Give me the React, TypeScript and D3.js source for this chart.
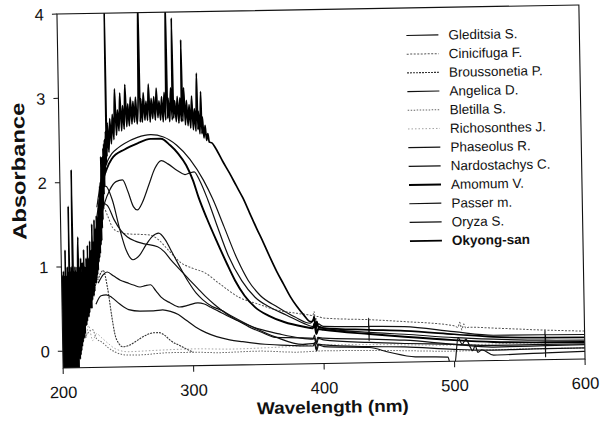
import React from 'react';
import * as d3 from 'd3';

// Axis ticks
const wavelengthTicks = [200, 300, 400, 500, 600];
const absorbanceTicks = [0, 1, 2, 3, 4];

// Legend order
const seriesNames = [
  'Gleditsia S.', 'Cinicifuga F.', 'Broussonetia P.', 'Angelica D.', 'Bletilla S.',
  'Richosonthes J.', 'Phaseolus R.', 'Nardostachys C.', 'Amomum V.', 'Passer m.',
  'Oryza S.', 'Okyong-san',
];

type Pt = [number, number];

// Spectra: [wavelength (nm), absorbance]
const gleditsia: Pt[] = [
  [228, 1.7], [232, 2.05], [236, 2.22], [240, 2.33], [245, 2.4], [250, 2.45], [260, 2.52], [270, 2.55],
  [280, 2.52], [290, 2.42], [300, 2.25], [310, 2.0], [317, 1.77], [325, 1.45], [335, 1.05], [343, 0.8],
  [352, 0.62], [365, 0.48], [378, 0.36], [390, 0.28], [393, 0.33], [394.5, 0.22], [396, 0.27], [400, 0.24],
  [434.6, 0.23], [434.7, 0.33], [434.8, 0.06], [435, 0.23], [462, 0.22], [500, 0.15], [530, 0.1],
  [569.6, 0.095], [569.7, 0.15], [569.8, -0.17], [570, 0.095], [600, 0.09],
];
const cinicifuga: Pt[] = [
  [230, 1.5], [233, 1.7], [236, 1.6], [240, 1.45], [245, 1.4], [250, 1.38], [260, 1.37], [268, 1.36],
  [275, 1.3], [282, 1.18], [292, 1.02], [300, 0.96], [310, 0.9], [320, 0.78], [336, 0.6], [350, 0.52],
  [363, 0.45], [380, 0.4], [389, 0.38], [392, 0.37], [393, 0.42], [394, 0.31], [395, 0.36], [400, 0.34],
  [435, 0.31], [462, 0.28], [500, 0.22], [503, 0.2], [504.5, 0.26], [506, 0.17], [507.5, 0.24],
  [509, 0.19], [511, 0.2], [530, 0.185], [570, 0.15], [600, 0.13],
];
const broussonetia: Pt[] = [
  [224, 0.7], [228, 0.85], [232, 0.95], [235, 0.75], [238, 0.4], [240, 0.2], [243, 0.08], [246, 0.04],
  [250, 0.05], [255, 0.09], [260, 0.14], [265, 0.18], [270, 0.2], [274, 0.2], [278, 0.17], [283, 0.1],
  [290, 0.04], [296, -0.01], [300, -0.04],
];
const angelica: Pt[] = [
  [230, 1.5], [234, 1.75], [238, 1.9], [243, 2.0], [248, 2.02], [252, 1.88], [256, 1.7], [259, 1.66],
  [263, 1.75], [268, 1.95], [273, 2.15], [278, 2.24], [283, 2.2], [290, 2.12], [296, 2.07], [300, 2.09],
  [303, 2.1], [307, 2.0], [313, 1.77], [320, 1.45], [328, 1.1], [338, 0.8], [348, 0.6], [359, 0.48],
  [372, 0.38], [385, 0.28], [392, 0.24], [393.5, 0.3], [395, 0.17], [396.5, 0.24], [400, 0.22],
  [435, 0.16], [462, 0.13], [500, 0.08], [530, 0.054], [570, 0.03], [600, 0.023],
];
const bletilla: Pt[] = [
  [214, 0.05], [217, 0.15], [220, 0.22], [223, 0.25], [226, 0.14], [230, 0.1], [235, 0.03], [240, -0.02],
  [250, -0.06], [260, -0.06], [270, -0.05], [280, -0.04], [300, -0.04], [320, -0.05], [350, -0.04],
  [380, -0.06], [400, -0.05], [450, -0.06], [500, -0.08], [550, -0.07], [600, -0.07],
];
const richosonthes: Pt[] = [
  [212, 0.3], [214, 0.1], [216, 0.35], [218, 0.15], [220, 0.3], [223, 0.12], [226, 0.2], [230, 0.15],
  [235, 0.08], [240, 0.02], [250, -0.02], [270, -0.01], [300, 0.0], [330, -0.01], [360, 0.0], [400, 0.02],
  [450, 0.01], [500, -0.01], [550, 0.0], [600, 0.0],
];
const phaseolus: Pt[] = [
  [228, 1.6], [232, 1.9], [235, 1.95], [240, 1.78], [245, 1.45], [250, 1.18], [255, 1.07], [260, 1.12],
  [265, 1.24], [270, 1.34], [275, 1.38], [280, 1.3], [285, 1.15], [290, 1.0], [297, 0.8], [303, 0.66],
  [308, 0.58], [315, 0.5], [321, 0.46], [330, 0.38], [343, 0.27], [363, 0.125], [384, 0.03], [393, 0.04],
  [394, -0.03], [395.5, 0.03], [400, 0.02], [435, -0.01], [462, -0.02], [500, -0.06], [530, -0.076],
  [570, -0.07], [600, -0.07],
];
const nardostachys: Pt[] = [
  [228, 1.5], [232, 1.75], [236, 1.72], [241, 1.55], [246, 1.42], [251, 1.34], [257, 1.29], [263, 1.26],
  [274, 1.22], [279, 1.16], [284, 1.06], [291, 0.94], [298, 0.82], [304, 0.72], [310, 0.62], [317, 0.52],
  [325, 0.42], [334, 0.33], [343, 0.25], [353, 0.18], [363, 0.12], [380, 0.11], [393, 0.1], [394, 0.04],
  [395.5, 0.11], [400, 0.1], [435, 0.08], [462, 0.06], [500, 0.0], [530, -0.04], [570, -0.035], [600, -0.03],
];
const amomum: Pt[] = [
  [226, 1.3], [229, 1.6], [232, 1.95], [236, 2.15], [240, 2.27], [250, 2.38], [260, 2.45], [270, 2.5],
  [278, 2.5], [285, 2.42], [291, 2.32], [297, 2.18], [302, 2.0], [306, 1.8], [312, 1.55], [320, 1.25],
  [327, 1.0], [333, 0.8], [340, 0.62], [348, 0.48], [358, 0.38], [370, 0.3], [385, 0.24], [392, 0.22],
  [393, 0.27], [394.5, 0.15], [396, 0.21], [400, 0.2], [435, 0.14], [462, 0.1], [500, 0.05], [530, 0.02],
  [570, 0.005], [600, 0.0],
];
const passer: Pt[] = [
  [228, 0.8], [232, 0.9], [235, 0.93], [240, 0.88], [245, 0.83], [250, 0.8], [255, 0.77], [260, 0.745],
  [264, 0.76], [268, 0.77], [272, 0.7], [276, 0.62], [283, 0.55], [290, 0.5], [297, 0.52], [304, 0.545],
  [309, 0.53], [314, 0.49], [320, 0.44], [326, 0.39], [338, 0.3], [351, 0.22], [366, 0.16], [381, 0.11],
  [392, 0.09], [393, 0.14], [394.5, 0.03], [396, 0.1], [400, 0.08], [435, 0.04], [462, 0.02], [500, 0.0],
  [530, -0.02], [570, -0.02], [600, -0.02],
];
const oryza: Pt[] = [
  [226, 0.55], [230, 0.65], [234, 0.66], [238, 0.63], [244, 0.55], [251, 0.48], [260, 0.46], [270, 0.46],
  [277, 0.47], [283, 0.45], [289, 0.41], [295, 0.34], [302, 0.26], [310, 0.19], [318, 0.14], [328, 0.1],
  [338, 0.075], [355, 0.04], [375, 0.02], [392, 0.01], [393, 0.05], [394.5, -0.05], [396, 0.02], [400, 0.0],
  [435, -0.02], [450, -0.08], [470, -0.14], [495, -0.15], [497, -0.25], [500, -0.25], [503, 0.08],
  [506, 0.0], [509, 0.06], [512, -0.03], [514, -0.08], [516, -0.02], [518, -0.1], [521, -0.07],
  [530, -0.135], [570, -0.12], [600, -0.11],
];
const okyongSan: Pt[] = [
  [200, 0.6], [200.25, -0.3], [200.5, 0.9], [200.75, -0.3], [201, 0.85], [201.25, -0.3], [201.5, 0.95],
  [201.75, -0.3], [202, 0.7], [202.25, -0.25], [202.5, 0.9], [202.75, -0.3], [203, 1.2], [203.25, -0.3],
  [203.5, 0.85], [203.75, -0.3], [204, 0.9], [204.25, -0.2], [204.5, 1.0], [204.75, -0.3], [205, 0.8],
  [205.25, -0.3], [205.5, 0.95], [205.75, -0.3], [206, 1.72], [206.25, -0.3], [206.5, 0.9], [206.75, -0.3],
  [207, 0.95], [207.25, -0.2], [207.5, 1.0], [207.75, -0.3], [208, 0.75], [208.25, -0.3], [208.5, 0.9],
  [208.8, 2.15], [209.05, -0.3], [209.3, 0.95], [209.6, -0.3], [209.85, 0.9], [210.1, -0.25], [210.4, 1.0],
  [210.7, -0.3], [211, 0.95], [211.25, -0.3], [211.5, 0.85], [211.75, -0.25], [212, 1.0], [212.25, -0.2],
  [212.5, 1.0], [213, 1.35], [213.3, -0.1], [213.6, 0.9], [213.9, -0.05], [214.2, 1.0], [214.5, 0.0],
  [214.8, 1.1], [215.1, 0.05], [215.4, 0.9], [215.7, 0.1], [216, 1.05], [216.3, 0.15], [216.6, 1.0],
  [216.9, 0.15], [217.2, 1.2], [217.5, 0.2], [217.8, 1.0], [218.1, 0.3], [218.4, 0.95], [218.7, 0.3],
  [219, 1.1], [219.3, 0.35], [219.6, 1.05], [219.9, 0.4], [220.2, 1.25], [220.5, 0.4], [220.8, 1.1],
  [221.1, 0.45], [221.4, 1.0], [221.7, 0.5], [222, 1.3], [222.3, 0.55], [222.6, 1.15], [222.9, 0.5],
  [223.2, 1.2], [223.5, 0.6], [223.8, 1.5], [224.1, 0.65], [224.4, 1.25], [224.7, 0.65], [225, 1.3],
  [225.3, 0.7], [225.6, 1.55], [225.9, 0.8], [226.2, 1.35], [226.5, 0.8], [226.8, 1.45], [227.1, 0.85],
  [227.4, 1.6], [227.7, 0.9], [228, 1.5], [228.3, 0.95], [228.6, 1.55], [228.9, 1.05], [229.2, 1.7],
  [229.5, 1.1], [229.8, 1.8], [230.1, 1.15], [230.4, 1.95], [230.7, 1.25], [231, 2.0], [231.3, 1.3],
  [231.6, 2.3], [231.9, 1.45], [232.2, 2.2], [232.5, 1.55], [232.8, 2.3], [233.1, 1.7], [233.4, 2.4],
  [233.7, 1.85], [234, 2.45], [234.3, 1.95], [234.6, 2.5], [235, 2.1], [235.5, 2.6], [236, 2.2],
  [236.2, 4.2], [236.4, 2.3], [237, 2.7], [238, 2.35], [239, 2.75],
  [240, 2.45], [241, 2.8], [242, 2.5], [243, 3.1], [244, 2.55], [245, 2.85], [246, 2.6], [247, 3.05],
  [248, 2.6], [249, 2.9], [250, 2.62], [251, 3.15], [252, 2.65], [253, 2.92], [254, 2.66], [255, 3.0],
  [256, 2.68], [257, 2.95], [258, 2.7], [259, 3.0], [260, 2.68], [261, 2.95], [262, 4.2], [262.4, 2.7],
  [263, 2.98], [264, 2.7], [265, 3.05], [266, 2.72], [267, 2.95], [268, 2.72], [269, 3.15], [270, 2.7],
  [271, 2.98], [272, 2.74], [273, 3.0], [274, 2.72], [275, 3.1], [276, 2.75], [277, 2.95], [278, 2.72],
  [279, 3.0], [280, 2.7], [281, 3.05], [282, 2.72], [283, 4.2], [283.4, 2.74], [284, 2.98], [285, 2.7],
  [286, 3.1], [287, 2.72], [287.5, 3.93], [288, 2.74], [289, 2.95], [290, 2.7], [291, 3.0], [292, 2.68],
  [293, 2.98], [294, 2.7], [294.4, 3.67], [295, 2.7], [296, 3.1], [297, 2.66], [298, 2.95], [299, 2.65],
  [300, 2.9], [301, 2.62], [302, 3.0], [303, 2.6], [304, 2.85], [305, 2.58], [306, 3.27], [306.5, 2.6],
  [307, 2.82], [308, 2.55], [309, 3.05], [309.5, 2.55], [310, 2.75], [311, 2.5], [312, 2.65], [313, 2.47],
  [314, 2.55], [315, 2.45], [317, 2.44], [320, 2.37], [325, 2.22], [330, 2.08], [335, 1.93], [340, 1.78],
  [345, 1.6], [350, 1.42], [355, 1.25], [360, 1.07], [365, 0.9], [370, 0.75], [375, 0.6], [380, 0.48],
  [385, 0.38], [390, 0.3], [392, 0.3], [393, 0.36], [394, 0.22], [395, 0.3], [396, 0.24], [400, 0.22],
  [435, 0.19], [462, 0.17], [500, 0.12], [530, 0.08], [570, 0.06], [600, 0.055],
];

const seriesData: Pt[][] = [
  gleditsia, cinicifuga, broussonetia, angelica, bletilla, richosonthes,
  phaseolus, nardostachys, amomum, passer, oryza, okyongSan,
];

// Stroke styling per series (same order as the legend)
const seriesStyles = [
  { color: '#111', width: 1.2, dash: '' },
  { color: '#555', width: 1.0, dash: '2,1.5' },
  { color: '#333', width: 1.1, dash: '2,1' },
  { color: '#111', width: 1.2, dash: '' },
  { color: '#666', width: 1.0, dash: '1.5,1.5' },
  { color: '#999', width: 0.9, dash: '1.5,2' },
  { color: '#111', width: 1.2, dash: '' },
  { color: '#111', width: 1.2, dash: '' },
  { color: '#000', width: 1.9, dash: '' },
  { color: '#111', width: 1.2, dash: '' },
  { color: '#111', width: 1.2, dash: '' },
  { color: '#000', width: 1.7, dash: '' },
];

const W = 602;
const H = 430;
const plot = { left: 60, right: 582, top: 9.5, bottom: 363.5 };
const FONT = '"Liberation Sans", Arial, Helvetica, sans-serif';

export default function App() {
  const x = d3.scaleLinear().domain([200, 600]).range([plot.left, plot.right]);
  const y = d3.scaleLinear().domain([-0.2, 4]).range([plot.bottom, plot.top]);
  const line = d3
    .line<Pt>()
    .x((d) => x(d[0]))
    .y((d) => y(d[1]))
    .curve(d3.curveMonotoneX);

  const legendX = 409;
  const legendY0 = 37;
  const legendStep = 18.7;

  return (
    <svg
      width={W}
      height={H}
      viewBox={`0 0 ${W} ${H}`}
      style={{ position: 'absolute', left: 0, top: 0, background: '#fff' }}
    >
      <defs>
        <clipPath id="plot-area">
          <rect x={plot.left} y={plot.top} width={plot.right - plot.left} height={plot.bottom - plot.top} />
        </clipPath>
      </defs>
      <rect x={0} y={0} width={W} height={H} fill="#fff" />
      <g transform="rotate(-1 321 186.5)">
        {/* spectra */}
        <g clipPath="url(#plot-area)">
          {seriesData.map((d, i) => (
            <path
              key={seriesNames[i]}
              d={line(d) ?? ''}
              fill="none"
              stroke={seriesStyles[i].color}
              strokeWidth={seriesStyles[i].width}
              strokeDasharray={seriesStyles[i].dash || undefined}
              strokeLinejoin="round"
            />
          ))}
        </g>

        {/* frame */}
        <rect
          x={plot.left}
          y={plot.top}
          width={plot.right - plot.left}
          height={plot.bottom - plot.top}
          fill="none"
          stroke="#111"
          strokeWidth={1.1}
        />

        {/* y axis */}
        {absorbanceTicks.map((t) => (
          <g key={`y${t}`}>
            <line x1={plot.left - 5} x2={plot.left} y1={y(t)} y2={y(t)} stroke="#111" strokeWidth={1} />
            <text
              x={plot.left - 13}
              y={y(t) + 6}
              textAnchor="end"
              fontFamily={FONT}
              fontSize={16.5}
              fill="#111"
            >
              {t}
            </text>
          </g>
        ))}

        {/* x axis */}
        {wavelengthTicks.map((t) => (
          <g key={`x${t}`}>
            <line x1={x(t)} x2={x(t)} y1={plot.bottom} y2={plot.bottom + 6} stroke="#111" strokeWidth={1} />
            <text
              x={x(t)}
              y={plot.bottom + 30}
              textAnchor="middle"
              fontFamily={FONT}
              fontSize={16.5}
              fill="#111"
            >
              {t}
            </text>
          </g>
        ))}

        <text
          x={329}
          y={413}
          textAnchor="middle"
          fontFamily={FONT}
          fontSize={17}
          fontWeight="bold"
          fill="#111"
          textLength={152}
          lengthAdjust="spacingAndGlyphs"
        >
          Wavelength (nm)
        </text>
        <text
          transform="translate(25.5 166) rotate(-90)"
          textAnchor="middle"
          fontFamily={FONT}
          fontSize={19}
          fontWeight="bold"
          fill="#111"
          textLength={137}
          lengthAdjust="spacingAndGlyphs"
        >
          Absorbance
        </text>

        {/* legend */}
        {seriesNames.map((name, i) => {
          const ly = legendY0 + i * legendStep;
          const st = seriesStyles[i];
          return (
            <g key={`lg${name}`}>
              <line
                x1={legendX}
                x2={legendX + 32}
                y1={ly}
                y2={ly}
                stroke={st.color}
                strokeWidth={st.width}
                strokeDasharray={st.dash || undefined}
              />
              <text
                x={legendX + 42}
                y={ly + 4.7}
                fontFamily={FONT}
                fontSize={13.5}
                fontWeight={name === 'Okyong-san' ? 'bold' : 'normal'}
                fill="#111"
              >
                {name}
              </text>
            </g>
          );
        })}
      </g>
    </svg>
  );
}
